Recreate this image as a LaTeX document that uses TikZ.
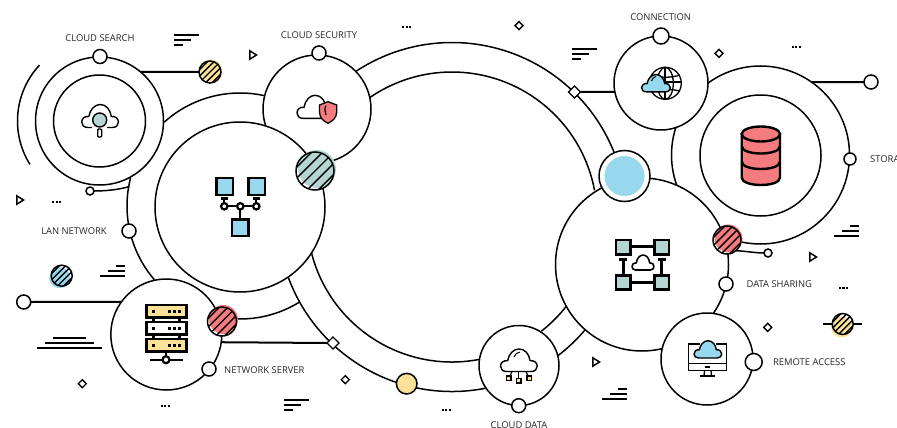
\documentclass[tikz,border=0pt]{standalone}
\usepackage{fontspec}
\setmainfont{Open Sans}
\usetikzlibrary{shapes.geometric,calc}
\definecolor{cblue}{HTML}{97D8EE}
\definecolor{cred}{HTML}{F47C7F}
\definecolor{cteal}{HTML}{B4D5D2}
\definecolor{cyel}{HTML}{FBE296}
\definecolor{ctext}{HTML}{262626}
\tikzset{
 ring/.style={circle,draw=black,line width=1.5pt,fill=white,inner sep=0pt,outer sep=0pt},
 dotc/.style={circle,draw=black,line width=1.5pt,fill=white,inner sep=0pt,outer sep=0pt},
 gem/.style={diamond,draw=black,line width=1.4pt,fill=white,inner sep=0pt,outer sep=0pt,aspect=1},
 minigem/.style={diamond,draw=black,line width=1.4pt,fill=white,inner sep=0pt,outer sep=0pt,minimum size=8pt,aspect=1},
 arcline/.style={line width=1.5pt},
 wire/.style={line width=2pt},
 bar/.style={line width=1.8pt},
 lab/.style={font=\fontsize{9.4}{11}\selectfont,text=ctext,inner sep=0pt},
 ico/.style={line width=1.4pt,line join=round,line cap=round},
 icob/.style={line width=2.2pt,line join=miter},
}
\newcommand{\hatchdisc}[7]{% name,x,y,r,colour,dx,dy
 \fill[#5] ({#2+#6},{#3+#7}) circle (#4);
 \begin{scope}
  \path[clip] (#2,#3) circle (#4);
  \fill[white] (#2,#3) circle (#4);
  \fill[#5] ({#2+#6},{#3+#7}) circle (#4);
  \foreach \k in {-2,-1,0,1,2}{
   \draw[line width=1.4pt] ({#2+\k*#4*0.29-#4*1.1},{#3+\k*#4*0.29+#4*1.1}) -- ({#2+\k*#4*0.29+#4*1.1},{#3+\k*#4*0.29-#4*1.1});
  }
 \end{scope}
 \node[circle,draw=black,line width=1.5pt,inner sep=0pt,outer sep=0pt,minimum size={2*#4*1pt}] (#1) at (#2,#3) {};
}
\newcommand{\cloudshape}[5]{% x(left),y(bottom),scalex,scaley,style
 \draw[#5,shift={(#1,#2)},xscale=#3,yscale=#4]
 (6,0) .. controls (2,0) and (0,-2.5) .. (0,-5.5) .. controls (0,-9) and (3,-11.5) .. (7,-11)
 .. controls (8,-18) and (13,-23) .. (18,-23) .. controls (24,-23) and (28,-18) .. (29,-11)
 .. controls (33,-11.5) and (36,-9) .. (36,-5.5) .. controls (36,-2.5) and (34,0) .. (30,0) -- cycle;
}
\newcommand{\lefttri}[2]{\draw[line width=1.5pt,line join=miter] (#1-3.2,#2-4.2) -- (#1+3.5,#2) -- (#1-3.2,#2+4.2) -- cycle;}
\newcommand{\threedots}[2]{\fill (#1-4.5,#2-1) rectangle +(2.2,2.2); \fill (#1-1,#2-1) rectangle +(2.2,2.2); \fill (#1+2.5,#2-1) rectangle +(2.2,2.2);}
\newcommand{\barsleft}[2]{\draw[bar] (#1,#2) -- +(25,0); \draw[bar] (#1,#2+5) -- +(17,0); \draw[bar] (#1,#2+10) -- +(9,0);}
\newcommand{\barsright}[2]{\draw[bar] (#1,#2) -- +(-9,0); \draw[bar] (#1,#2+5) -- +(-17,0); \draw[bar] (#1,#2+10) -- +(-25,0);}
\newcommand{\ringarc}[5]{\draw[arcline] (#1,#2) ++(#4:#3) arc (#4:#5:#3);}
\begin{document}
\begin{tikzpicture}[x=1pt,y=-1pt]
\useasboundingbox (0,0) rectangle (897,428);
\fill[white] (0,0) rectangle (897,428);
\clip (0,0) rectangle (897,428);
% central ring
\ringarc{452}{217}{174.5}{236.8}{338.3}
\ringarc{452}{217}{145}{235.4}{349.4}
\ringarc{452}{217}{145}{166}{79.3}
\ringarc{452}{217}{174.5}{159.7}{78.9}
\ringarc{452}{217}{145}{51.9}{38}
\ringarc{452}{217}{174.5}{52.7}{40.2}
% LAN outer ring
\ringarc{240}{206}{113}{227.9}{282.2}
\ringarc{240}{206}{113}{194.3}{139.3}
\ringarc{240}{206}{113}{95}{58}
% cloud search
\draw[arcline] (99.5,121) ++(223:82) arc (223:148:82);
\node[ring,minimum size=128pt] (csout) at (99.5,121) {};
\node[ring,minimum size=92pt] (csin) at (99.5,121) {};
\node[dotc,minimum size=14pt] (cstop) at (100,56.5) {};
% security, LAN
\node[ring,minimum size=108pt] (sec) at (317,109) {};
\node[dotc,minimum size=14pt] (sectop) at (319,53) {};
\node[ring,minimum size=170pt] (lan) at (240,207) {};
\hatchdisc{hteal}{315}{171}{19}{cteal}{2}{-2}
% server
\node[ring,minimum size=111pt] (srv) at (166.3,334.5) {};
\hatchdisc{hred}{222}{321.5}{14.5}{cred}{1.5}{-2}
\node[dotc,minimum size=14pt] (srvdot) at (209,369) {};
\node[dotc,minimum size=14pt] (landot) at (129,231) {};
\node[dotc,minimum size=14pt] (srvleft) at (23.7,302) {};
\node[gem,minimum size=12pt] (gemA) at (333,343) {};
\draw[wire] (srvleft.east) -- (srv.144.2);
\draw[wire] (srv.-8.8) -- (gemA.west);
% cloud search extras
\hatchdisc{hyela}{210}{72}{11}{cyel}{1}{-1.5}
\draw[wire] (csout.50) -- (hyela.west);
\node[dotc,minimum size=8pt] (csdot) at (90,191) {};
\coordinate (csdotend) at (129.5,186.5);
\draw[arcline] (csdot.east) .. controls (104,191) and (118,190) .. (csdotend);
% storage
\node[ring,minimum size=178pt] (stor) at (760.5,155) {};
\node[ring,minimum size=121pt] (storin) at (760.5,155.5) {};
\node[ring,minimum size=94pt] (conn) at (661,83) {};
\node[dotc,minimum size=16pt] (conntop) at (661,36) {};
\node[gem,minimum size=12pt] (gemB) at (574.5,92) {};
\draw[wire] (gemB.east) -- (conn.191.04);
\node[dotc,minimum size=14pt] (stortop) at (871,82) {};
\draw[wire] (stor.55.1) -- (stortop.west);
\node[dotc,minimum size=12pt] (stordot) at (850,159) {};
% big circle
\node[ring,minimum size=173pt] (big) at (642,264.5) {};
\node[ring,minimum size=51pt] (bluec) at (624.5,176) {};
\fill[cblue] (624.5,176) circle (20);
\hatchdisc{hredb}{727}{240}{14}{cred}{1.5}{-1.5}
\node[dotc,minimum size=8pt] (bigdot) at (768,253) {};
\draw[arcline] (hredb.-50) .. controls (745,251) and (755,253) .. (bigdot.west);
\node[dotc,minimum size=14pt] (bigsmall) at (726,284) {};
% remote
\node[ring,minimum size=92pt] (rem) at (707,359) {};
\node[dotc,minimum size=17pt] (remdot) at (753.7,362) {};
% cloud data
\node[ring,minimum size=80pt] (cdata) at (519,365.5) {};
\node[dotc,minimum size=14pt] (cdatadot) at (518.7,405.7) {};
\node[circle,draw=black,line width=1.5pt,fill=cyel,inner sep=0pt,minimum size=20.6pt] (yeldot) at (406.7,383.7) {};
% other hatched
\hatchdisc{hblue}{61.7}{275.7}{10.5}{cblue}{-2}{2}
\hatchdisc{hyelb}{842.7}{324}{10.5}{cyel}{-1}{3}
\coordinate (yl) at (823,324); \coordinate (yr) at (862,324);
\draw[wire] (yl) -- (hyelb.west); \draw[wire] (hyelb.east) -- (yr);
% mini diamonds
\node[minigem] (m1) at (82.3,383.7) {};
\node[minigem] (m2) at (519,25.7) {};
\node[minigem] (m3) at (345.3,379.7) {};
\node[minigem] (m4) at (719,53.3) {};
\node[minigem] (m5) at (767.7,327.3) {};
% triangles
\lefttri{253}{55}\lefttri{20}{200}\lefttri{813}{257}\lefttri{596}{362}
% dots
\threedots{56.7}{201.7}\threedots{165}{405.7}\threedots{406.7}{26.7}\threedots{446}{410}\threedots{796}{46.7}\threedots{843.3}{287.7}
% bars
\barsleft{174}{34.7}\barsleft{284}{399.7}\barsleft{572}{48.7}
\barsright{125}{266.3}\barsright{859}{225.7}\barsright{627}{388.7}
\draw[bar] (53,337.7) -- (86,337.7); \draw[bar] (45,342.7) -- (94,342.7); \draw[bar] (37,347.7) -- (102,347.7);
% labels
\node[lab] (l1) at (100,38.5) {CLOUD SEARCH};
\node[lab] (l2) at (319,35) {CLOUD SECURITY};
\node[lab] (l3) at (660.7,17) {CONNECTION};
\node[lab] (l4) at (74,230.7) {LAN NETWORK};
\node[lab,anchor=west] (l5) at (224,369.7) {NETWORK SERVER};
\node[lab] (l6) at (519,425) {CLOUD DATA};
\node[lab] (l7) at (779.3,284) {DATA SHARING};
\node[lab] (l8) at (809.3,362.3) {REMOTE ACCESS};
\node[lab,anchor=west] (l9) at (870,159) {STORAGE};
% icon: cloud search
\cloudshape{81.7}{127.5}{1.02}{1.0}{ico}
\fill[white] (92,127) rectangle (107,129);
\draw[ico,fill=cteal] (99.7,120) circle (7);
\draw[ico,fill=white,rounded corners=1pt] (97.7,129) rectangle (101.7,137);
% icon: security
\cloudshape{297}{118.3}{1.0}{1.0}{ico}
\draw[line width=1.3pt,line join=round,fill=cred] (328,101.7) -- (336.7,105) -- (336.7,112) .. controls (336.7,118) and (332,121.5) .. (328,123.3) .. controls (324,121.5) and (319.5,118) .. (319.5,112) -- (319.5,105) -- cycle;
\draw[line width=1.2pt] (326,105.5) .. controls (324.5,108) and (324.5,112) .. (326,115);
% icon: LAN
\draw[icob,fill=cblue] (216.5,178) rectangle (233,195);
\draw[icob,fill=cblue] (248.5,178) rectangle (265,195);
\draw[icob,fill=cblue] (232,219.5) rectangle (248.5,236);
\draw[line width=2.2pt] (224.3,206.3) -- (256.3,206.3);
\draw[line width=2.2pt] (240.3,206.3) -- (240.3,219);
\draw[line width=2.2pt] (224.3,198.5) -- (224.3,203);
\draw[line width=2.2pt] (256.3,198.5) -- (256.3,203);
\draw[line width=2.2pt] (220.8,198.5) -- (227.8,198.5);
\draw[line width=2.2pt] (252.8,198.5) -- (259.8,198.5);
\foreach \xx in {224.3,240.3,256.3}{\draw[line width=2.2pt,fill=white] (\xx,206.3) circle (3.2);}
% icon: server
\draw[line width=2.4pt] (153.3,317) -- (153.3,340); \draw[line width=2.4pt] (179.3,317) -- (179.3,340);
\draw[icob,fill=cyel] (146.5,305) rectangle (186.5,317.5);
\draw[icob,fill=white] (146.5,322) rectangle (186.5,334.5);
\draw[icob,fill=cyel] (146.5,339) rectangle (186.5,351.5);
\foreach \yy in {311.2,328.2,345.2}{\foreach \xx in {153.7,169.7,174.7,179.7}{\fill (\xx-1.4,\yy-1.4) rectangle +(2.8,2.8);}}
\draw[line width=2.4pt] (166,351.5) -- (166,356);
\draw[line width=2.4pt] (150,359.7) -- (182.7,359.7);
\draw[line width=2.2pt,fill=white] (166,359.7) circle (3.5);
% icon: cloud data
\cloudshape{500.5}{371.5}{1.02}{0.98}{ico,fill=white}
\draw[line width=1pt] (514,357) .. controls (515,354) and (517,352.5) .. (520,352);
\draw[line width=1.3pt] (518.7,371.5) -- (518.7,379);
\draw[line width=1.3pt] (512,371.5) -- (510,376);
\draw[line width=1.3pt] (526,371.5) -- (528,376);
\draw[line width=1.1pt,fill=cyel] (516.5,378.5) rectangle (521,383);
\draw[line width=1.1pt,fill=cyel] (506.5,376) rectangle (511,380.5);
\draw[line width=1.1pt,fill=cyel] (527,376) rectangle (531.5,380.5);
% icon: connection
\draw[line width=1.3pt,fill=white] (665.3,83.3) circle (16);
\draw[line width=1.3pt] (665.3,83.3) ellipse (8 and 16);
\draw[line width=2pt] (665.3,67.3) -- (665.3,99.3);
\draw[line width=2pt] (665.3,82.5) -- (681.3,82.5);
\draw[line width=1.3pt] (651,75) .. controls (660,78) and (671,78) .. (680,75);
\draw[line width=1.3pt] (651,91) .. controls (660,89) and (671,89) .. (680,91);
\cloudshape{641.5}{91.8}{0.8}{0.75}{ico,fill=cblue}
\draw[line width=1pt] (651.5,81) .. controls (652,78.5) and (654,77) .. (656,76.5);
% icon: storage
\begin{scope}[line width=2.4pt]
\draw[fill=cred] (741.7,134) -- (741.7,177.5) .. controls (741.7,187.5) and (780,187.5) .. (780,177.5) -- (780,134) -- cycle;
\draw (741.7,146) .. controls (741.7,156) and (780,156) .. (780,146);
\draw (741.7,161.5) .. controls (741.7,171.5) and (780,171.5) .. (780,161.5);
\draw[fill=cred] (760.85,134) ellipse (19.15 and 7.5);
\end{scope}
% icon: big
\begin{scope}[line width=2.6pt]
\draw (630,246.7) -- (654,246.7); \draw (630,282.3) -- (654,282.3);
\draw (623.3,259.7) -- (623.3,275); \draw (661.7,259.7) -- (661.7,275);
\draw (619.3,259.7) -- (627.3,259.7); \draw (657.7,259.7) -- (665.7,259.7);
\draw[fill=cteal] (616,240) rectangle (630.5,254.5);
\draw[fill=cteal] (654.5,240) rectangle (669,254.5);
\draw[fill=cteal] (616,275.5) rectangle (630.5,289.5);
\draw[fill=cteal] (654.5,275.5) rectangle (669,289.5);
\end{scope}
\cloudshape{632}{270}{0.61}{0.65}{line width=1.6pt,line join=round}
% icon: remote
\draw[line width=1.5pt] (700,344) -- (688.5,344) -- (688.5,370.7) -- (726.5,370.7) -- (726.5,344) -- (716,344);
\draw[line width=1.5pt] (688.5,363.7) -- (726.5,363.7);
\draw[line width=1.5pt] (704.5,367) -- (710,367);
\draw[line width=1.3pt] (704.5,370.7) -- (704,376); \draw[line width=1.3pt] (711,370.7) -- (711.5,376);
\draw[line width=1.5pt] (700,376) -- (715,376);
\cloudshape{694}{358}{0.77}{0.75}{ico,fill=cblue}
\end{tikzpicture}
\end{document}
